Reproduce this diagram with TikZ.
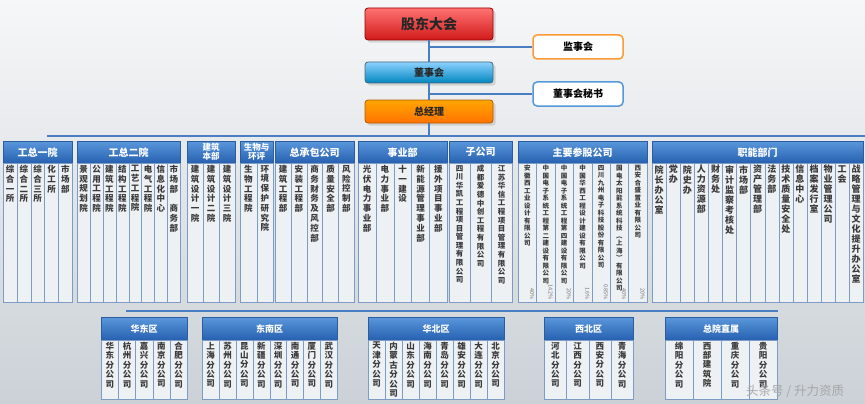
\documentclass[tikz,border=0pt]{standalone}
\usepackage{fontspec}
\setmainfont{Noto Sans CJK SC}
\usetikzlibrary{shadows}

\definecolor{linec}{HTML}{4A7EC2}
\definecolor{headt}{HTML}{5A97DB}
\definecolor{headd}{HTML}{2660B0}
\definecolor{headb}{HTML}{2A5C9E}
\definecolor{colb}{HTML}{7C9CC6}
\definecolor{colf}{HTML}{EEF1F4}
\definecolor{coltxt}{HTML}{3A3A3A}
\definecolor{bgtop}{HTML}{F6F7F8}
\definecolor{bgbot}{HTML}{CBD1D7}

% vertical text: one character per line
\def\vtend{vtend}
\def\vtloop#1{\ifx#1\vtend\else\hbox{#1}\expandafter\vtloop\fi}
\newcommand\vt[2]{\vbox to #1{\vskip2pt\expandafter\vtloop#2\vtend\vfil}}

\begin{document}
\begin{tikzpicture}[x=1pt,y=-1pt,
    every node/.style={inner sep=0pt},
    topbox/.style={rounded corners=3pt, line width=0.8pt, minimum width=128pt,
      drop shadow={opacity=0.25}, font=\bfseries\fontsize{10}{12}\selectfont, text=black!85},
    sidebox/.style={rounded corners=4pt, fill=white, line width=1.5pt, minimum width=90pt,
      minimum height=24pt, font=\bfseries\fontsize{10}{12}\selectfont},
    head/.style={anchor=north west, draw=headb, top color=headt, bottom color=headd, text=white,
      align=center, font=\bfseries\fontsize{10}{11}\selectfont, minimum height=22pt},
    col/.style={anchor=north west, draw=colb, fill=colf, text=coltxt,
      font=\bfseries\fontsize{8.5}{9.8}\selectfont, minimum height=139pt},
    lowcol/.style={col, font=\bfseries\fontsize{8.5}{9.4}\selectfont, minimum height=59pt},
    pct/.style={rotate=-90, anchor=east, text=black!55, font=\fontsize{5.5}{6}\selectfont},
    bus/.style={draw=linec, line width=1.5pt}]

  \useasboundingbox[top color=bgtop, bottom color=bgbot] (0,0) rectangle (865,404);

  % top of the tree
  \node[topbox, draw=red!60!black, top color=red!55!white, bottom color=red!80!black!90,
        minimum height=32pt, font=\bfseries\fontsize{14}{16}\selectfont] (gd) at (429,24) {股东大会};
  \node[topbox, draw=cyan!40!black, top color=cyan!60!blue!45, bottom color=cyan!70!blue!75!black,
        minimum height=21pt] (dsh) at (429,72.5) {董事会};
  \node[topbox, draw=orange!70!black, top color=orange!70!yellow, bottom color=orange!90!red,
        minimum height=23pt] (zjl) at (429,111.5) {总经理};
  \node[sidebox, draw=orange!80!white] (jsh) at (578,47) {监事会};
  \node[sidebox, draw=cyan!60!blue!70] (ms) at (578,94) {董事会秘书};

  \draw[bus] (gd) -- (dsh);
  \draw[bus] (dsh) -- (zjl);
  \draw[bus] (jsh.west) -- (jsh.west -| gd.south);
  \draw[bus] (ms.west) -- (ms.west -| dsh.south);

  \coordinate (busL) at (47,136);
  \coordinate (busR) at (865,136);
  \draw[bus] (busL) -- (busR);
  \draw[bus] (zjl.south) -- (zjl.south |- busL);

  % first tier
  \node[head, minimum width=69pt] (h1) at (3,141) {工总一院};
  \foreach \t [count=\i] in {综合一所,综合二所,综合三所,化工所,市场部}
    \node[col, minimum width=13.8pt] (a\i) at ({3+(\i-1)*13.8},163) {\vt{139pt}{\t}};

  \node[head, minimum width=103pt] (h2) at (77,141) {工总二院};
  \foreach \t [count=\i] in {景观规划院,公用工程院,建筑工程院,结构工程院,工艺工程院,电气工程院,信息化中心,市场部~商务部}
    \node[col, minimum width=12.875pt] (b\i) at ({77+(\i-1)*12.875},163) {\vt{139pt}{\t}};

  \node[head, minimum width=48pt, font=\bfseries\fontsize{8.5}{9}\selectfont] (h3) at (187,141) {建筑\\本部};
  \foreach \t [count=\i] in {建筑设计一院,建筑设计二院,建筑设计三院}
    \node[col, minimum width=16pt] (c\i) at ({187+(\i-1)*16},163) {\vt{139pt}{\t}};

  \node[head, minimum width=33pt, font=\bfseries\fontsize{8.5}{9}\selectfont] (h4) at (240,141) {生物与\\环评};
  \foreach \t [count=\i] in {生物工程院,环境保护研究院}
    \node[col, minimum width=16.5pt] (d\i) at ({240+(\i-1)*16.5},163) {\vt{139pt}{\t}};

  \node[head, minimum width=79pt] (h5) at (275,141) {总承包公司};
  \foreach \t [count=\i] in {建筑工程部,安装工程部,商务财务及风控部,质量安全部,风险控制部}
    \node[col, minimum width=15.8pt] (e\i) at ({275+(\i-1)*15.8},163) {\vt{139pt}{\t}};

  \node[head, minimum width=89pt] (h6) at (358,141) {事业部};
  \foreach \t [count=\i] in {光伏电力事业部,电力事业部,十一建设,新能源管理事业部,援外项目事业部}
    \node[col, minimum width=17.8pt] (f\i) at ({358+(\i-1)*17.8},163) {\vt{139pt}{\t}};

  \node[head, minimum width=63pt] (h7) at (449,141) {子公司};
  \foreach \t [count=\i] in {四川华凯工程项目管理有限公司,成都爱德中创工程有限公司,江苏华信工程项目管理有限公司}
    \node[col, minimum width=21pt, font=\bfseries\fontsize{7.5}{8.6}\selectfont] (g\i) at ({449+(\i-1)*21},163) {\vt{139pt}{\t}};

  \node[head, minimum width=128.8pt] (h8) at (518,141) {主要参股公司};
  \foreach \t [count=\i] in {安徽西工业设计有限公司,中国电子系统工程第二建设有限公司,中国电子系统工程第四建设有限公司,
      中国华西工程设计建设有限公司,四川九州电子科技股份有限公司,国电太阳能系统科技︵上海︶有限公司,西安合盛置业有限公司}
    \node[col, minimum width=18.4pt, font=\bfseries\fontsize{6.5}{7.5}\selectfont] (k\i) at ({518+(\i-1)*18.4},163) {\vt{139pt}{\t}};
  \foreach \p [count=\i] in {40\%,14.2\%,20\%,1.6\%,0.85\%,40\%,20\%}
    \node[pct] (p\i) at ({518+(\i-0.5)*18.4+5},300) {\p};

  \node[head, minimum width=211pt] (h9) at (652,141) {职能部门};
  \foreach \t [count=\i] in {院长办公室,党办,院史办,人力资源部,财务处,审计监察考核处,市场部,资产管理部,
      法务部,技术质量安全处,信息中心,档案发行室,物业管理公司,工会,战略管理与文化提升办公室}
    \node[col, minimum width=14.07pt, font=\bfseries\fontsize{9}{10}\selectfont] (m\i) at ({652+(\i-1)*14.07},163) {\vt{139pt}{\t}};

  % second tier
  \coordinate (lbusL) at (126,311);
  \coordinate (lbusR) at (778,311);
  \draw[bus] (lbusL) -- (lbusR);

  \node[head, minimum width=86pt, minimum height=23pt, font=\bfseries\fontsize{9}{10}\selectfont] (l1) at (101,317) {华东区};
  \foreach \t [count=\i] in {华东分公司,杭州分公司,嘉兴分公司,南京分公司,合肥分公司}
    \node[lowcol, minimum width=17.2pt] (q\i) at ({101+(\i-1)*17.2},340) {\vt{59pt}{\t}};

  \node[head, minimum width=135pt, minimum height=23pt, font=\bfseries\fontsize{9}{10}\selectfont] (l2) at (202,317) {东南区};
  \foreach \t [count=\i] in {上海分公司,苏州分公司,昆山分公司,新疆分公司,深圳分公司,南通分公司,厦门分公司,武汉分公司}
    \node[lowcol, minimum width=16.875pt] (r\i) at ({202+(\i-1)*16.875},340) {\vt{59pt}{\t}};

  \node[head, minimum width=136pt, minimum height=23pt, font=\bfseries\fontsize{9}{10}\selectfont] (l3) at (368,317) {华北区};
  \foreach \t [count=\i] in {天津分公司,内蒙古分公司,山东分公司,海南分公司,青岛分公司,雄安分公司,大连分公司,北京分公司}
    \node[lowcol, minimum width=17pt] (s\i) at ({368+(\i-1)*17},340) {\vt{59pt}{\t}};

  \node[head, minimum width=89pt, minimum height=23pt, font=\bfseries\fontsize{9}{10}\selectfont] (l4) at (544,317) {西北区};
  \foreach \t [count=\i] in {河北分公司,江西分公司,西安分公司,青海分公司}
    \node[lowcol, minimum width=22.25pt] (u\i) at ({544+(\i-1)*22.25},340) {\vt{59pt}{\t}};

  \node[head, minimum width=112pt, minimum height=23pt, font=\bfseries\fontsize{9}{10}\selectfont] (l5) at (665,317) {总院直属};
  \foreach \t [count=\i] in {绵阳分公司,西部建筑院,重庆分公司,贵阳分公司}
    \node[lowcol, minimum width=28pt] (v\i) at ({665+(\i-1)*28},340) {\vt{59pt}{\t}};

  \node[text=black!35, font=\fontsize{12.5}{13}\selectfont] (wm) at (795,391) {头条号 / 升力资质};
\end{tikzpicture}
\end{document}
